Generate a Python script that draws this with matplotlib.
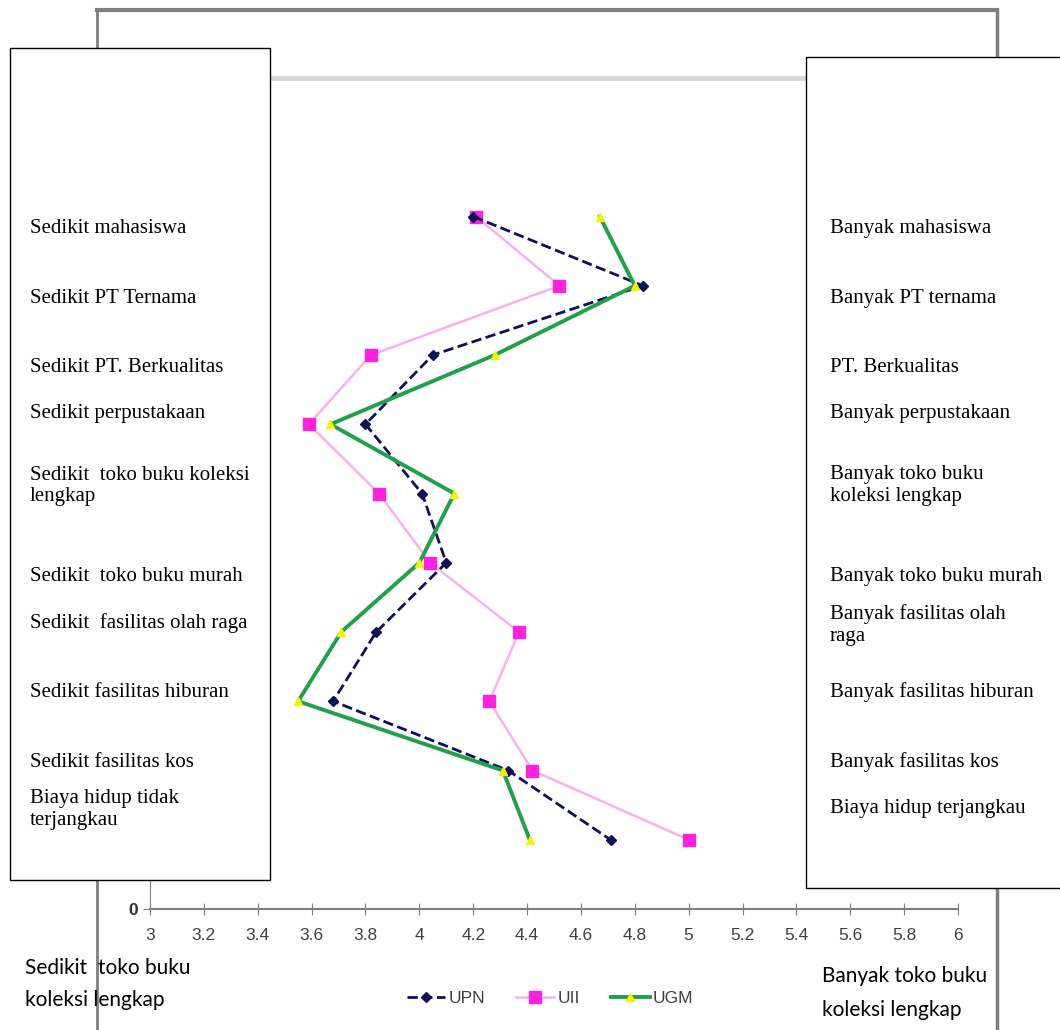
import matplotlib.pyplot as plt
from matplotlib.lines import Line2D
from matplotlib.patches import Rectangle

# data (rows from top to bottom = 10 .. 1)
rows = [10, 9, 8, 7, 6, 5, 4, 3, 2, 1]
upn = [4.20, 4.83, 4.05, 3.80, 4.01, 4.10, 3.84, 3.68, 4.33, 4.71]
uii = [4.21, 4.52, 3.82, 3.59, 3.85, 4.04, 4.37, 4.26, 4.42, 5.00]
ugm = [4.67, 4.80, 4.28, 3.67, 4.13, 4.00, 3.71, 3.55, 4.31, 4.41]
xticks = [3, 3.2, 3.4, 3.6, 3.8, 4, 4.2, 4.4, 4.6, 4.8, 5, 5.2, 5.4, 5.6, 5.8, 6]

left_labels = ['Sedikit mahasiswa', 'Sedikit PT Ternama', 'Sedikit PT. Berkualitas',
               'Sedikit perpustakaan', 'Sedikit  toko buku koleksi\nlengkap',
               'Sedikit  toko buku murah', 'Sedikit  fasilitas olah raga',
               'Sedikit fasilitas hiburan', 'Sedikit fasilitas kos',
               'Biaya hidup tidak\nterjangkau']
right_labels = ['Banyak mahasiswa', 'Banyak PT ternama', 'PT. Berkualitas',
                'Banyak perpustakaan', 'Banyak toko buku\nkoleksi lengkap',
                'Banyak toko buku murah', 'Banyak fasilitas olah\nraga',
                'Banyak fasilitas hiburan', 'Banyak fasilitas kos',
                'Biaya hidup terjangkau']
# vertical pixel position (from top) of the first line of each label
label_px = [226, 296, 365, 411, 482, 574, 621, 690, 760, 806]

W, H = 1060, 1030
fig = plt.figure(figsize=(W / 100, H / 100), dpi=100)

def fx(px):
    return px / W

def fy(py):
    return 1 - py / H

narrow = ['Liberation Sans Narrow', 'Liberation Sans', 'DejaVu Sans']

# outer chart frame
fig.add_artist(Line2D([fx(97), fx(997)], [fy(10), fy(10)], color='#7f7f7f', lw=3))
fig.add_artist(Line2D([fx(97), fx(97)], [fy(10), 0], color='#7f7f7f', lw=2))
fig.add_artist(Line2D([fx(997), fx(997)], [fy(10), 0], color='#7f7f7f', lw=2.5))

ax = fig.add_axes([fx(150), fy(909), fx(958 - 150), (909 - 78) / H])
ax.plot(upn, rows, color='#10105a', ls='--', lw=2, marker='D', ms=5, label='UPN', zorder=3)
ax.plot(uii, rows, color='#f7b3e8', lw=1.8, marker='s', ms=8, mfc='#ff22dd', mec='#ff22dd',
        label='UII', zorder=2)
ax.plot(ugm, rows, color='#1fa04a', lw=2.8, marker='^', ms=6, mfc='#f4f400', mec='#f4f400',
        label='UGM', zorder=4)

ax.set_xlim(3, 6)
ax.set_ylim(0, 12)
ax.set_xticks(xticks)
ax.set_xticklabels([f'{t:g}' for t in xticks], family=narrow, fontsize=12.5, color='#404040')
ax.set_yticks([0])
ax.set_yticklabels(['0'], family=narrow, fontsize=12.5, fontweight='bold', color='#303030')
ax.tick_params(axis='x', direction='inout', length=8, color='#808080', pad=10)
ax.tick_params(axis='y', direction='out', length=5, color='#808080')
ax.spines['right'].set_visible(False)
ax.spines['bottom'].set_color('#808080')
ax.spines['bottom'].set_linewidth(1.5)
ax.spines['left'].set_color('#808080')
ax.spines['top'].set_color('#d4d4d4')
ax.spines['top'].set_linewidth(3.5)

fig.legend(loc='center', bbox_to_anchor=(fx(550), fy(998)), ncol=3, frameon=False,
           prop={'family': narrow, 'size': 12.5}, handlelength=2.2, columnspacing=1.8,
           handletextpad=0.2, labelcolor='#404040')

# overlay text boxes
fig.add_artist(Rectangle((fx(10), fy(880)), fx(260), (880 - 48) / H, facecolor='white',
                         edgecolor='black', lw=1, zorder=5))
fig.add_artist(Rectangle((fx(806), fy(888)), fx(300), (888 - 57) / H, facecolor='white',
                         edgecolor='black', lw=1, zorder=5))
for lab, py in zip(left_labels, label_px):
    fig.text(fx(30), fy(py), lab, family='Liberation Serif', fontsize=15, va='center_baseline',
             linespacing=1.2, zorder=6)
for lab, py in zip(right_labels, label_px):
    fig.text(fx(830), fy(py), lab, family='Liberation Serif', fontsize=15, va='center_baseline',
             linespacing=1.2, zorder=6)

# bottom captions
fig.text(fx(25), fy(968), 'Sedikit  toko buku', family='Lato', fontsize=15, va='center')
fig.text(fx(25), fy(1000), 'koleksi lengkap', family='Lato', fontsize=15, va='center')
fig.text(fx(822), fy(976), 'Banyak toko buku', family='Lato', fontsize=15, va='center')
fig.text(fx(822), fy(1010), 'koleksi lengkap', family='Lato', fontsize=15, va='center')

fig.savefig('out.png', dpi=100)
